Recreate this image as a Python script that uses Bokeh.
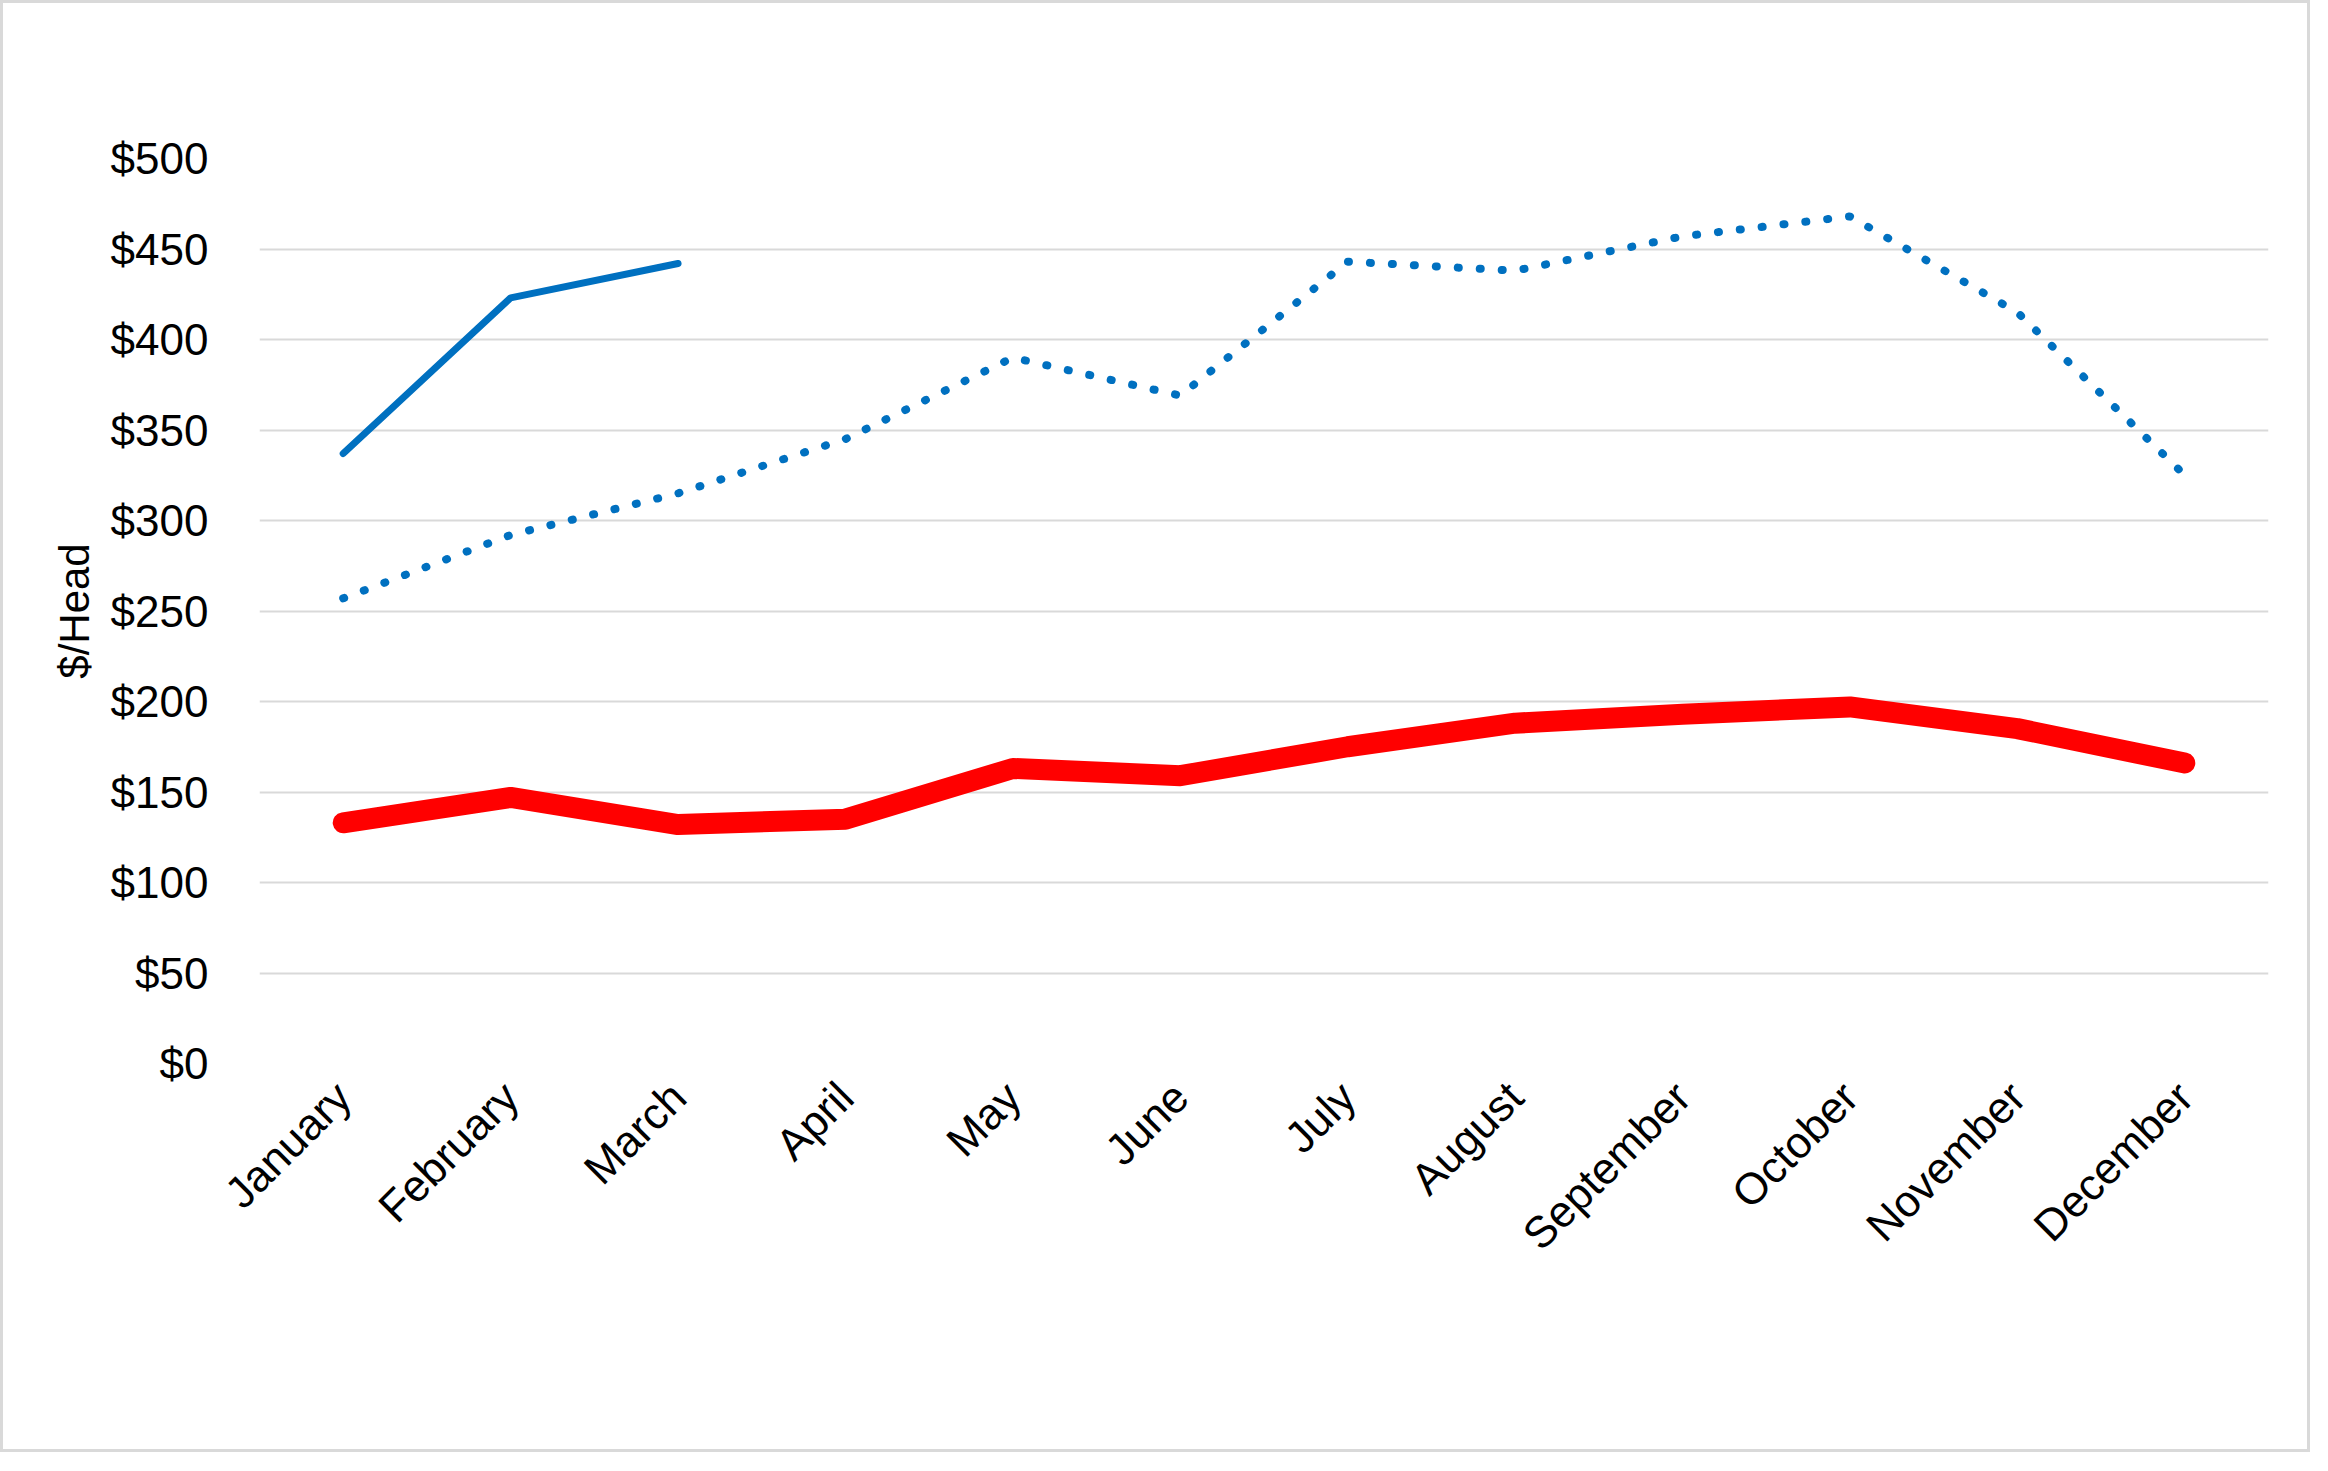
from bokeh.plotting import figure
from bokeh.models import Legend, LegendItem, NumeralTickFormatter, FixedTicker, Range1d
from bokeh.embed import file_html
from bokeh.resources import INLINE

months = ["January","February","March","April","May","June","July","August",
          "September","October","November","December"]
avg = [133,147,132,135,163,159,175,188,193,197,185,166]
y2025 = [257,292,315,345,390,369,443,438,457,468,415,325]
y2026 = [337,423,442]

F = "Liberation Sans"
p = figure(x_range=months, y_range=Range1d(0, 500), width=2310, height=1452,
           output_backend="svg", toolbar_location=None,
           min_border_left=256, min_border_right=45, min_border_top=155, min_border_bottom=80)
p.styles = {"border": "3px solid #d9d9d9"}
p.outline_line_color = None
p.xgrid.grid_line_color = None
p.ygrid.grid_line_color = "#d9d9d9"
p.ygrid.grid_line_width = 2
p.yaxis.ticker = FixedTicker(ticks=list(range(0, 501, 50)))
p.yaxis.formatter = NumeralTickFormatter(format="$0")
for ax in (p.xaxis, p.yaxis):
    ax.axis_line_color = None
    ax.major_tick_line_color = None
    ax.minor_tick_line_color = None
    ax.major_label_text_font = F
    ax.major_label_text_font_size = "44px"
    ax.major_label_text_color = "black"
p.xaxis.major_label_orientation = 0.785
p.xaxis.major_label_standoff = 20
p.xaxis.axis_label = " "
p.xaxis.axis_label_text_font_size = "150px"
p.yaxis.major_label_standoff = 45
p.yaxis.axis_label = "$/Head"
p.yaxis.axis_label_text_font = F
p.yaxis.axis_label_text_color = "black"
p.yaxis.axis_label_text_font_style = "normal"
p.yaxis.axis_label_text_font_size = "42px"
p.yaxis.axis_label_standoff = 10

r1 = p.line(months, avg, line_color="#ff0000", line_width=21, line_cap="round", line_join="round")
r2 = p.line(months, y2025, line_color="#0070c0", line_width=8, line_dash="1 21", line_cap="round")
r3 = p.line(months[:3], y2026, line_color="#0070c0", line_width=7, line_cap="round")

leg = Legend(items=[LegendItem(label="Average 2020-2024", renderers=[r1]),
                    LegendItem(label="2025", renderers=[r2]),
                    LegendItem(label="2026", renderers=[r3])],
             orientation="horizontal", location=(290, -360),
             label_text_font=F, label_text_font_size="46px", label_text_color="black",
             glyph_width=130, glyph_height=30, label_standoff=4, spacing=50,
             border_line_color=None, background_fill_alpha=0, padding=10, margin=0)
p.add_layout(leg, "center")

open("out.html", "w").write(file_html(p, INLINE))
